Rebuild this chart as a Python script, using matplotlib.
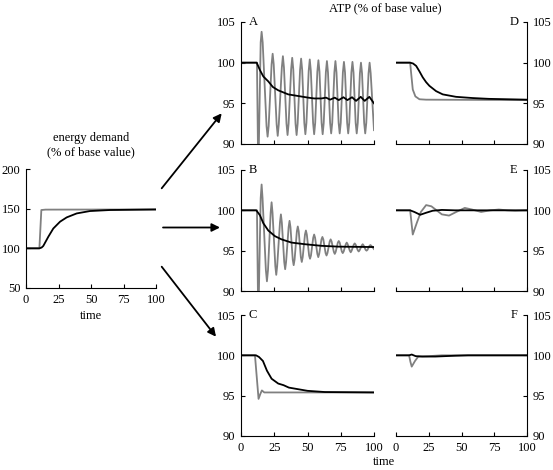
import matplotlib
matplotlib.use("Agg")
import matplotlib.pyplot as plt
from matplotlib.patches import FancyArrowPatch

plt.rcParams['font.family'] = ['Liberation Serif', 'DejaVu Serif']
plt.rcParams['font.size'] = 9

GRAY = '#808080'

# energy demand (left panel)
dem_fast_t = [0, 10.3, 11.8, 15, 100]
dem_fast = [100, 100, 148.3, 148.8, 149]
dem_slow_t = [0, 10.3, 12, 13.3, 17.2, 21, 26.2, 31.3, 39, 49.2, 64.6, 100]
dem_slow = [100, 100, 101, 103, 114.7, 125, 133.6, 139, 144, 147, 148.3, 149]

# panel A
a_gray_t = [0, 12, 13, 14.8, 15.5, 16.3, 19.2, 20.0, 20.8, 23.0, 23.8, 24.6, 26.8, 27.6,
            28.4, 30.7, 31.5, 32.3, 34.2, 35.0, 35.8, 37.7, 38.5, 39.3, 41.0, 41.8, 42.6,
            44.4, 45.2, 46.0, 47.6, 48.4, 49.2, 50.9, 51.7, 52.5, 54.2, 55.0, 55.8, 57.4,
            58.2, 59.0, 60.6, 61.4, 62.2, 63.8, 64.6, 65.4, 67.0, 67.8, 68.6, 70.2, 71.0,
            71.8, 73.4, 74.2, 75.0, 76.6, 77.4, 78.2, 79.8, 80.6, 81.4, 83.0, 83.8, 84.6,
            86.2, 87.0, 87.8, 89.4, 90.2, 91.0, 92.6, 93.4, 94.2, 95.9, 96.7, 97.5, 100]
a_gray = [100, 100, 86, 102.5, 103.8, 102.5, 92.2, 90.9, 92.2, 99.8, 101.1, 99.8, 92.4, 91.0,
          92.4, 99.4, 100.8, 99.4, 92.5, 91.1, 92.5, 99.2, 100.6, 99.2, 92.5, 91.1, 92.5,
          99.1, 100.5, 99.1, 92.6, 91.2, 92.6, 99.0, 100.4, 99.0, 92.6, 91.2, 92.6, 98.9,
          100.3, 98.9, 92.6, 91.2, 92.6, 98.8, 100.2, 98.8, 92.6, 91.3, 92.6, 98.8, 100.2,
          98.8, 92.6, 91.3, 92.6, 98.8, 100.1, 98.8, 92.6, 91.3, 92.6, 98.8, 100.1, 98.8,
          92.6, 91.3, 92.6, 98.7, 100.0, 98.7, 92.6, 91.3, 92.6, 98.7, 100.0, 98.7, 91.7]
a_black_t = [0, 11.8, 14.2, 16.8, 20.5, 24, 28, 35.5, 43, 50.5, 55, 60.5, 64, 67, 70.5,
             73.5, 77, 80, 83.5, 86.5, 90, 93, 96.5, 100]
a_black = [100, 100, 99.1, 98.3, 97.7, 97.0, 96.6, 96.1, 95.9, 95.7, 95.6, 95.6, 95.7,
           95.45, 95.7, 95.4, 95.75, 95.4, 95.75, 95.3, 95.8, 95.3, 95.8, 95.0]

# panel B
b_gray_t = [0, 12, 13, 14.8, 15.5, 16.2, 18.7, 19.5, 20.3, 22.3, 23, 23.7, 25.8, 26.5, 27.2,
            29.3, 30, 30.7, 32.5, 33.2, 33.9, 35.8, 36.5, 37.2, 38.9, 39.6, 40.3, 42.0, 42.7,
            43.4, 45.0, 45.7, 46.4, 48.1, 48.8, 49.5, 51.2, 51.9, 52.6, 54.3, 55, 55.7, 57.4,
            58.1, 58.8, 60.5, 61.2, 61.9, 63.6, 64.3, 65.0, 66.7, 67.4, 68.1, 69.8, 70.5,
            71.2, 72.8, 73.5, 74.2, 75.8, 76.5, 77.2, 78.8, 79.5, 80.2, 81.8, 82.5, 83.2,
            84.8, 85.5, 86.2, 87.8, 88.5, 89.2, 90.8, 91.5, 92.2, 93.7, 94.4, 95.1, 96.6,
            97.3, 98.0, 100]
b_gray = [100, 100, 86, 101.5, 103.2, 101.5, 92.6, 91.2, 92.6, 99.7, 101.0, 99.7, 93.1, 92.0,
          93.1, 98.5, 99.5, 98.5, 93.6, 92.7, 93.6, 97.9, 98.7, 97.9, 93.9, 93.2, 93.9, 97.4,
          98.0, 97.4, 94.2, 93.6, 94.2, 97.0, 97.5, 97.0, 94.4, 94.0, 94.4, 96.6, 97.0, 96.6,
          94.6, 94.2, 94.6, 96.4, 96.7, 96.4, 94.7, 94.4, 94.7, 96.15, 96.4, 96.15, 94.85,
          94.6, 94.85, 96.0, 96.2, 96.0, 94.9, 94.7, 94.9, 95.8, 96.0, 95.8, 95.0, 94.8,
          95.0, 95.75, 95.9, 95.75, 95.05, 94.9, 95.05, 95.65, 95.8, 95.65, 95.1, 95.0,
          95.1, 95.6, 95.7, 95.6, 95.2]
b_black_t = [0, 11.5, 14.2, 16.8, 20.5, 25.5, 30.5, 38, 48, 60.5, 73, 100]
b_black = [100, 100, 99.4, 98.4, 97.5, 96.8, 96.4, 96.0, 95.8, 95.6, 95.5, 95.45]

# panel C
c_gray_t = [0, 10.5, 12, 13.2, 14.5, 15.7, 17.5, 20, 100]
c_gray = [100, 100, 97, 94.6, 95.2, 95.65, 95.4, 95.4, 95.4]
c_black_t = [0, 11.3, 13.5, 16.5, 19.5, 23, 28, 32, 36, 43, 50, 63, 100]
c_black = [100, 100, 99.8, 99.3, 98.1, 97.1, 96.5, 96.3, 96.0, 95.8, 95.6, 95.45, 95.4]

# panel D
d_gray_t = [0, 10.8, 11.5, 12.8, 14.8, 17.9, 23, 100]
d_gray = [100, 100, 98.8, 96.7, 95.85, 95.5, 95.45, 95.4]
d_black_t = [0, 10.8, 13, 15.4, 18, 20.4, 23, 25.5, 30.6, 35.7, 45.8, 58.5, 71, 100]
d_black = [100, 100, 99.9, 99.6, 98.9, 98.2, 97.6, 97.15, 96.5, 96.1, 95.8, 95.65, 95.55,
           95.45]

# panel E
e_gray_t = [0, 10.8, 12.8, 16, 19, 23, 27, 31, 35, 40.5, 46, 52.5, 58, 65, 72, 78.5, 85,
            91, 100]
e_gray = [100, 100, 97.0, 98.5, 99.8, 100.65, 100.5, 100.0, 99.5, 99.35, 99.8, 100.3,
          100.1, 99.8, 100.0, 100.1, 100.0, 99.95, 100.0]
e_black_t = [0, 10.8, 14, 18.5, 23, 28, 35, 45, 100]
e_black = [100, 100, 99.8, 99.45, 99.7, 99.95, 100.05, 100.0, 100.0]

# panel F
f_gray_t = [0, 10, 11, 12, 14.5, 17, 25, 35, 100]
f_gray = [100, 100, 99.2, 98.6, 99.3, 99.85, 99.9, 100, 100]
f_black_t = [0, 10, 12, 15, 20, 30, 45, 55, 100]
f_black = [100, 100, 100.1, 99.9, 99.85, 99.85, 99.95, 100, 100]

atp_ticks = [90, 95, 100, 105]
time_ticks = [0, 25, 50, 75, 100]

W, H = 553, 470
fig = plt.figure(figsize=(W / 100, H / 100), dpi=100)


def px_axes(x0, y0, x1, y1):
    return fig.add_axes([x0 / W, 1 - y1 / H, (x1 - x0) / W, (y1 - y0) / H])


def style(ax, side, xlabels):
    ax.set_xlim(0, 100)
    ax.set_xticks(time_ticks)
    for s in ['top', side == 'left' and 'right' or 'left']:
        ax.spines[s].set_visible(False)
    for s in ['bottom', side]:
        ax.spines[s].set_linewidth(0.8)
    ax.tick_params(direction='in', length=3, width=0.8, pad=4)
    if side == 'right':
        ax.yaxis.tick_right()
    if not xlabels:
        ax.set_xticklabels([])


# left panel
ax0 = px_axes(26, 169, 156, 288)
ax0.plot(dem_fast_t, dem_fast, color=GRAY, lw=1.3)
ax0.plot(dem_slow_t, dem_slow, color='black', lw=1.3)
ax0.set_ylim(50, 200)
ax0.set_yticks([50, 100, 150, 200])
style(ax0, 'left', True)
ax0.set_xlabel('time', labelpad=3)
ax0.text(50, 213, 'energy demand\n(% of base value)', ha='center', va='bottom',
         linespacing=1.35)

panels = [
    ('A', (241, 22, 374, 144), a_gray_t, a_gray, a_black_t, a_black, 'left', False),
    ('B', (241, 170, 374, 291), b_gray_t, b_gray, b_black_t, b_black, 'left', False),
    ('C', (241, 315, 374, 436), c_gray_t, c_gray, c_black_t, c_black, 'left', True),
    ('D', (396, 22, 527, 144), d_gray_t, d_gray, d_black_t, d_black, 'right', False),
    ('E', (396, 170, 527, 291), e_gray_t, e_gray, e_black_t, e_black, 'right', False),
    ('F', (396, 315, 527, 436), f_gray_t, f_gray, f_black_t, f_black, 'right', True),
]

for name, box, gt, gv, bt, bv, side, xl in panels:
    ax = px_axes(*box)
    ax.plot(gt, gv, color=GRAY, lw=1.3)
    ax.plot(bt, bv, color='black', lw=1.3)
    ax.set_ylim(90, 105)
    ax.set_yticks(atp_ticks)
    style(ax, side, xl)
    lx = 9 if side == 'left' else 90
    ax.text(lx, 105, name, ha='center', va='center', clip_on=False)

fig.text(385 / W, 1 - 8 / H, 'ATP (% of base value)', ha='center', va='center')
fig.text(384 / W, 1 - 462 / H, 'time', ha='center', va='center')

# arrows from demand to ATP panels
arrows = [((161.7, 188.3), (221.7, 113.3)),
          ((163, 227.5), (220, 227.5)),
          ((161.7, 266.7), (216, 336.7))]
for (x0, y0), (x1, y1) in arrows:
    fig.patches.append(FancyArrowPatch((x0 / W, 1 - y0 / H), (x1 / W, 1 - y1 / H),
                                       transform=fig.transFigure, arrowstyle='-|>',
                                       mutation_scale=12, lw=1.3, color='black',
                                       shrinkA=0, shrinkB=0))

fig.savefig('out.png', dpi=100)
